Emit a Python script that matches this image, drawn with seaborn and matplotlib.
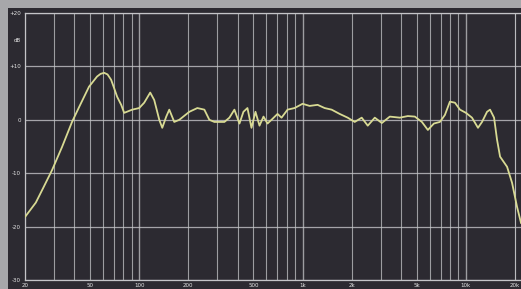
import matplotlib
matplotlib.use("Agg")
import matplotlib.pyplot as plt
from matplotlib.patches import Rectangle
from matplotlib.ticker import FixedLocator, NullFormatter, FixedFormatter
import seaborn as sns
import pandas as pd

# Frequency response (Hz, dB)
freq_hz = [20, 23.3, 26.0, 29.3, 33.7, 38.8, 42.9, 49.3, 55.2, 58.0, 61.0, 64.0,
           67.3, 70.1, 73.3, 77.6, 80.9,
           90.6, 100, 107.3, 116.8, 123.6, 132.7, 138.4, 146.4, 152.8, 163.9,
           176.0, 202.7, 226.9, 250.5, 268.8, 288.5, 332.3, 356.6, 382.6, 410.8,
           434.5, 459.8, 486.6, 514.9, 544.8, 576.5, 610.0, 645.3, 702.5, 743.4,
           809.1, 893.1, 1000, 1104, 1236, 1365, 1506, 1687, 1888, 2085, 2301,
           2506, 2767, 3055, 3419, 3938, 4408, 4866, 5372, 5846, 6364, 6925,
           7430, 7975, 8562, 9191, 10000, 10885, 11848, 12540, 13460, 14040,
           14860, 15490, 16170, 17850, 19150, 20540, 21720]
level_db = [-18.2, -15.5, -12.6, -9.4, -5.1, -0.4, 2.4, 6.2, 8.1, 8.6, 8.8, 8.5,
            7.5, 6.0, 4.3, 2.8, 1.3,
            1.9, 2.2, 3.2, 5.1, 3.7, 0.0, -1.5, 0.6, 1.9, -0.4,
            0.0, 1.5, 2.2, 1.9, 0.0, -0.4, -0.4, 0.4, 1.9, -0.7,
            1.5, 2.2, -1.5, 1.5, -1.1, 0.6, -0.7, 0.0, 1.1, 0.4,
            1.9, 2.2, 3.0, 2.6, 2.8, 2.2, 1.9, 1.1, 0.4, -0.4, 0.4,
            -1.1, 0.4, -0.6, 0.6, 0.4, 0.7, 0.6, -0.4, -1.9, -0.7, -0.4,
            0.9, 3.4, 3.2, 1.9, 1.3, 0.4, -1.5, -0.4, 1.5, 1.9,
            0.4, -3.7, -6.9, -8.8, -11.8, -16.3, -19.3]

x_ticks = [20, 50, 100, 200, 500, 1000, 2000, 5000, 10000, 20000]
x_tick_labels = ["20", "50", "100", "200", "500", "1k", "2k", "5k", "10k", "20k"]
y_ticks = [-30, -20, -10, 0, 10, 20]
y_tick_labels = ["-30", "-20", "-10", "0", "+10", "+20"]
y_extra_tick = [15]
y_extra_label = ["dB"]
x_grid = [m * d for d in (10, 100, 1000, 10000) for m in range(1, 10)] + [20000]

W, H = 521, 289
fig = plt.figure(figsize=(W / 100, H / 100), dpi=100, facecolor="#a7a7aa")
panel_col = "#2c2a31"
fig.add_artist(Rectangle((8 / W, 0), 1, 1 - 8 / H, transform=fig.transFigure,
                         facecolor=panel_col, edgecolor="none", zorder=0))

ax = fig.add_axes([25 / W, 1 - 280 / H, 1 - 25 / W, (280 - 13) / H])
ax.set_facecolor(panel_col)

df = pd.DataFrame({"freq": freq_hz, "level": level_db})
sns.lineplot(data=df, x="freq", y="level", ax=ax, color="#d8da93",
             linewidth=1.3, zorder=5)

ax.set_xscale("log")
ax.set_xlim(20, 21720)
ax.set_ylim(-30, 20)

# grid lines
for g in x_grid:
    if 20 <= g <= 21720:
        lw = 1.0 if g in (100, 1000, 10000) else 0.8
        ax.axvline(g, color="#c4c4c8", lw=lw, alpha=0.75, zorder=1)
for g in y_ticks:
    ax.axhline(g, color="#c4c4c8", lw=0.9, alpha=0.8, zorder=1)

ax.xaxis.set_major_locator(FixedLocator(x_ticks))
ax.xaxis.set_major_formatter(FixedFormatter(x_tick_labels))
ax.xaxis.set_minor_locator(FixedLocator([]))
ax.xaxis.set_minor_formatter(NullFormatter())
ax.yaxis.set_major_locator(FixedLocator(y_ticks))
ax.yaxis.set_major_formatter(FixedFormatter(y_tick_labels))
ax.yaxis.set_minor_locator(FixedLocator(y_extra_tick))
ax.yaxis.set_minor_formatter(FixedFormatter(y_extra_label))

ax.tick_params(axis="both", which="both", length=0, colors="#e6e6e6",
               labelsize=4)
ax.tick_params(axis="y", which="both", pad=3)
ax.tick_params(axis="x", which="both", pad=2)
ax.set_xlabel("")
ax.set_ylabel("")

for side in ("left", "top", "bottom"):
    ax.spines[side].set_color("#c4c4c8")
    ax.spines[side].set_linewidth(0.9)
ax.spines["right"].set_visible(False)

fig.savefig("out.png", dpi=100, facecolor=fig.get_facecolor())
